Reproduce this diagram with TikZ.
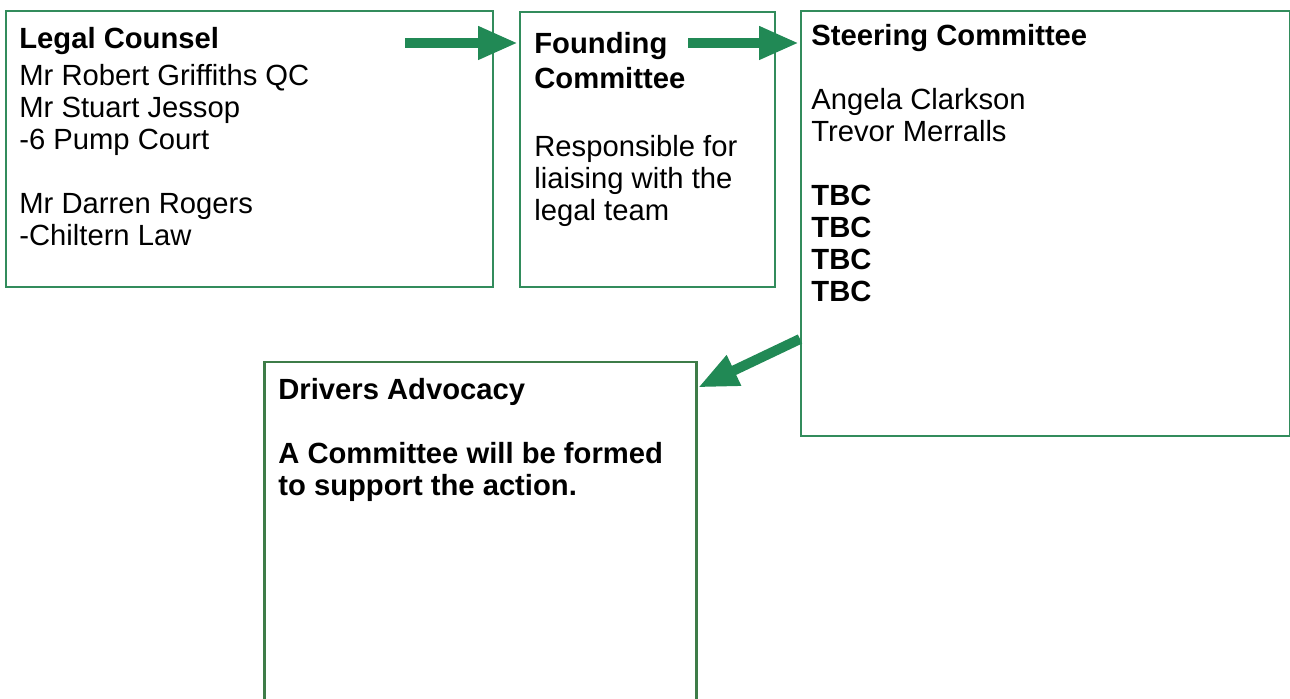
\documentclass[tikz,border=0pt]{standalone}
\usepackage{fontspec}
\setmainfont{Liberation Sans}
\usetikzlibrary{arrows.meta,positioning}
\definecolor{boxgreen}{RGB}{50,140,92}
\definecolor{darkgreen}{RGB}{62,124,72}
\definecolor{arrowgreen}{RGB}{33,137,85}
\tikzset{
	box/.style={draw=boxgreen, line width=1pt, inner sep=0pt, anchor=north west},
	txt/.style={align=left, inner sep=0pt, font=\fontsize{14.6pt}{16pt}\selectfont},
	bigarrow/.style={draw=arrowgreen, line width=5pt, shorten >=0.5pt, -{Triangle[length=20pt,width=15.5pt]}}
}
\begin{document}
\begin{tikzpicture}[x=0.5pt,y=-0.5pt]
		\useasboundingbox (0,0) rectangle (1290,699);
		\clip (0,0) rectangle (1290,699);

		\node[box, minimum width=243.5pt, minimum height=138pt] (legal) at (5,10) {};
		\node[box, minimum width=127.5pt, minimum height=137.5pt] (founding) at (519,11) {};
		\node[box, minimum width=244.5pt, minimum height=212.5pt] (steering) at (800,10) {};
		\node[box, draw=darkgreen, line width=1.25pt, minimum width=216pt, minimum height=180pt] (drivers) at (263,361) {};

		\node[txt, below right=8.5pt and 7pt of legal.north west] (legaltxt)
			{\textbf{Legal Counsel}\\[2.5pt]
			Mr Robert Griffiths QC\\
			Mr Stuart Jessop\\
			-6 Pump Court\\[16pt]
			Mr Darren Rogers\\
			-Chiltern Law};
		\node[txt, below right=10.5pt and 7.5pt of founding.north west] (foundingtxt)
			{\textbf{Founding}\\[1.5pt]
			\textbf{Committee}\\[18pt]
			Responsible for\\
			liaising with the\\
			legal team};
		\node[txt, below right=7pt and 5.5pt of steering.north west] (steeringtxt)
			{\textbf{Steering Committee}\\[16pt]
			Angela Clarkson\\
			Trevor Merralls\\[16pt]
			\textbf{TBC}\\
			\textbf{TBC}\\
			\textbf{TBC}\\
			\textbf{TBC}};
		\node[txt, font=\fontsize{14.6pt}{16pt}\selectfont\bfseries, below right=8.5pt and 7.5pt of drivers.north west] (driverstxt)
			{Drivers Advocacy\\[16pt]
			A Committee will be formed\\
			to support the action.};

		\coordinate (a1) at (405,43);
		\coordinate (a2) at (688,43);
		\coordinate (a3) at (800,339);
		\coordinate (a4) at (697,388);
		\draw[bigarrow] (a1) -- (a1 -| founding.west);
		\draw[bigarrow] (a2) -- (a2 -| steering.west);
		\draw[bigarrow] (a3) -- (a4);
\end{tikzpicture}
\end{document}
